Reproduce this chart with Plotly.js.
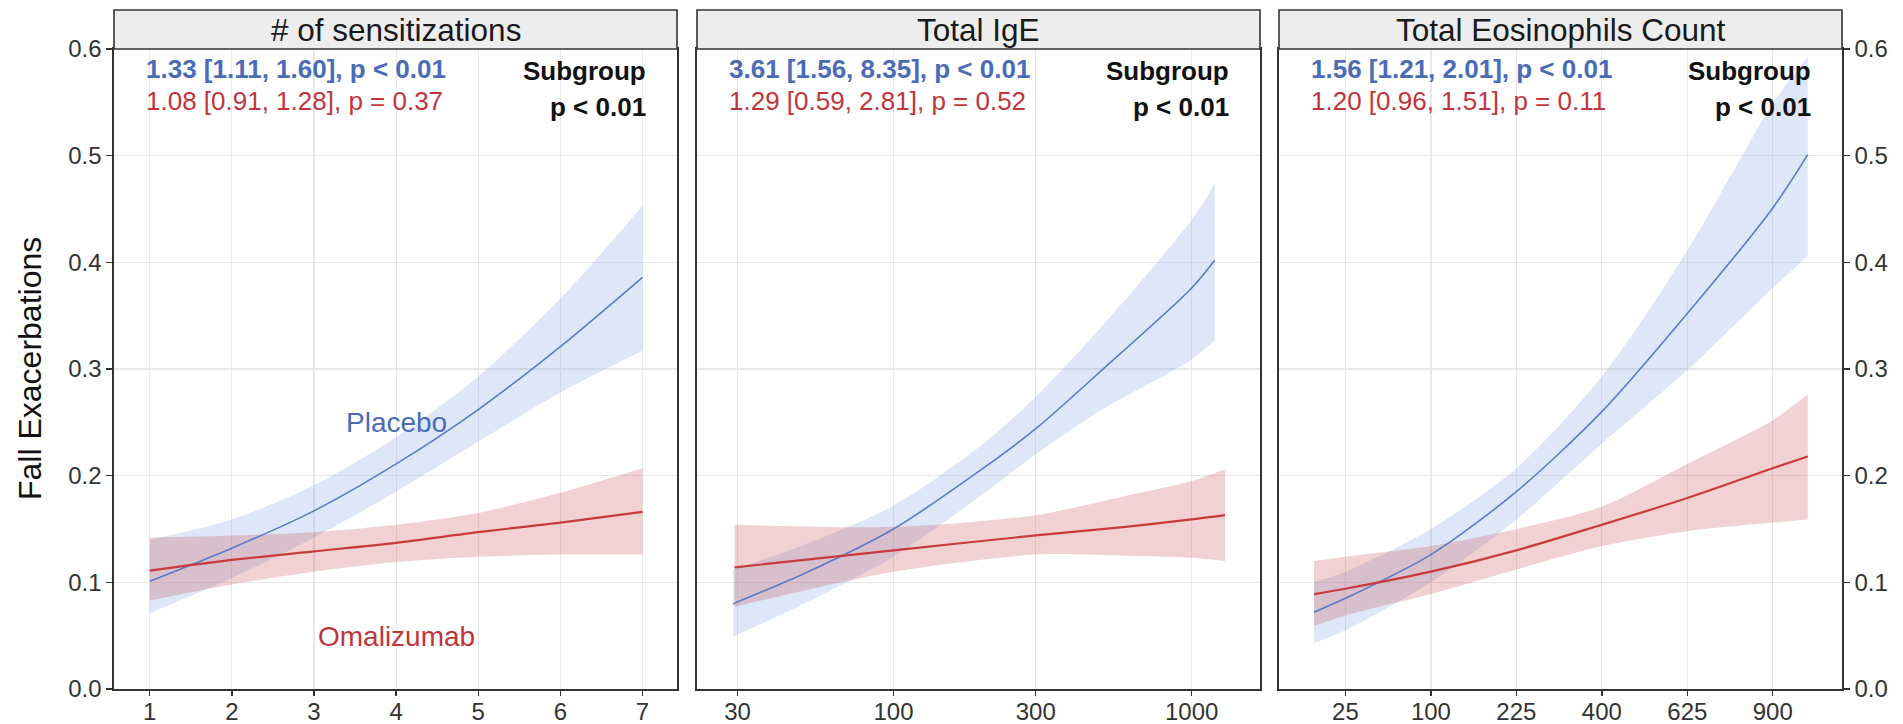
<!DOCTYPE html>
<html>
<head>
<meta charset="utf-8">
<script src="https://cdn.plot.ly/plotly-3.0.1.min.js"></script>
<style>html,body{margin:0;padding:0;background:#fff;}#chart{width:1903px;height:724px;}</style>
</head>
<body>
<div id="chart"></div>
<script>
// ---------- data ----------
const panelTitles = ["# of sensitizations", "Total IgE", "Total Eosinophils Count"];
const yTicks = [0, 0.1, 0.2, 0.3, 0.4, 0.5, 0.6];
const yTickText = ["0.0", "0.1", "0.2", "0.3", "0.4", "0.5", "0.6"];

// Panel 1: # of sensitizations
const sensTicks = [1, 2, 3, 4, 5, 6, 7];
const sensX = [1, 2, 3, 4, 5, 6, 7];
const sensPlacebo   = [0.101, 0.132, 0.167, 0.211, 0.262, 0.321, 0.386];
const sensPlaceboLo = [0.071, 0.104, 0.142, 0.185, 0.232, 0.278, 0.317];
const sensPlaceboHi = [0.140, 0.159, 0.191, 0.236, 0.293, 0.366, 0.453];
const sensOmal   = [0.111, 0.121, 0.129, 0.137, 0.147, 0.156, 0.166];
const sensOmalLo = [0.083, 0.098, 0.110, 0.119, 0.124, 0.126, 0.126];
const sensOmalHi = [0.142, 0.144, 0.147, 0.154, 0.165, 0.184, 0.207];

// Panel 2: Total IgE (log axis)
const igeTicks = [30, 100, 300, 1000];
const igeXPlacebo = [29, 50, 100, 200, 300, 500, 1000, 1195];
const igePlacebo   = [0.080, 0.108, 0.150, 0.207, 0.244, 0.299, 0.376, 0.402];
const igePlaceboLo = [0.049, 0.080, 0.124, 0.183, 0.220, 0.262, 0.309, 0.327];
const igePlaceboHi = [0.112, 0.135, 0.172, 0.230, 0.274, 0.340, 0.440, 0.474];
const igeXOmal = [29.3, 100, 300, 600, 1000, 1294];
const igeOmal   = [0.114, 0.130, 0.144, 0.152, 0.159, 0.163];
const igeOmalLo = [0.077, 0.110, 0.126, 0.125, 0.123, 0.120];
const igeOmalHi = [0.154, 0.152, 0.163, 0.181, 0.195, 0.206];

// Panel 3: Total Eosinophils Count (square-root axis)
const eosTicks = [25, 100, 225, 400, 625, 900];
const eosX = [10, 25, 100, 225, 400, 625, 900, 1027];
const eosPlacebo   = [0.072, 0.085, 0.126, 0.185, 0.260, 0.352, 0.451, 0.501];
const eosPlaceboLo = [0.043, 0.055, 0.100, 0.159, 0.230, 0.299, 0.376, 0.406];
const eosPlaceboHi = [0.100, 0.110, 0.150, 0.207, 0.293, 0.411, 0.549, 0.593];
const eosOmal   = [0.089, 0.094, 0.110, 0.130, 0.154, 0.179, 0.207, 0.218];
const eosOmalLo = [0.059, 0.069, 0.089, 0.112, 0.134, 0.148, 0.156, 0.159];
const eosOmalHi = [0.120, 0.124, 0.134, 0.150, 0.171, 0.211, 0.252, 0.276];

const placeboStats = ["1.33 [1.11, 1.60], p &lt; 0.01", "3.61 [1.56, 8.35], p &lt; 0.01", "1.56 [1.21, 2.01], p &lt; 0.01"];
const omalStats = ["1.08 [0.91, 1.28], p = 0.37", "1.29 [0.59, 2.81], p = 0.52", "1.20 [0.96, 1.51], p = 0.11"];
const subgroupP = ["p &lt; 0.01", "p &lt; 0.01", "p &lt; 0.01"];

// ---------- style ----------
const FONT = "Liberation Sans, Arial, Helvetica, sans-serif";
const BLUE_TXT = "#4a6cb6", RED_TXT = "#c2343b";
const BLUE_LINE = "#5a7bc6", RED_LINE = "#c83a3c";
const BLUE_FILL = "rgba(120,160,225,0.25)", RED_FILL = "rgba(205,90,95,0.28)";
const W = 1903, H = 724;
const PLOT_TOP = 49, PLOT_BOT = 689;
const panelsPx = [[114, 677], [697, 1260], [1279, 1842]];
const sqrt = v => Math.sqrt(v);

const traces = [];
function band(xs, lo, hi, fill, xa, ya) {
  traces.push({
    x: xs, y: lo, type: "scatter", mode: "lines",
    line: {width: 0, shape: "spline", smoothing: 0.8, color: "rgba(0,0,0,0)"}, hoverinfo: "skip",
    xaxis: xa, yaxis: ya, showlegend: false
  });
  traces.push({
    x: xs, y: hi, type: "scatter", mode: "lines", fill: "tonexty", fillcolor: fill,
    line: {width: 0, shape: "spline", smoothing: 0.8, color: "rgba(0,0,0,0)"}, hoverinfo: "skip",
    xaxis: xa, yaxis: ya, showlegend: false
  });
}
function line(xs, ys, color, width, xa, ya) {
  traces.push({
    x: xs, y: ys, type: "scatter", mode: "lines",
    line: {color: color, width: width, shape: "spline", smoothing: 0.8},
    xaxis: xa, yaxis: ya, showlegend: false
  });
}

// panel 1
band(sensX, sensPlaceboLo, sensPlaceboHi, BLUE_FILL, "x", "y");
band(sensX, sensOmalLo, sensOmalHi, RED_FILL, "x", "y");
line(sensX, sensPlacebo, BLUE_LINE, 1.6, "x", "y");
line(sensX, sensOmal, RED_LINE, 2.2, "x", "y");
// panel 2
band(igeXPlacebo, igePlaceboLo, igePlaceboHi, BLUE_FILL, "x2", "y2");
band(igeXOmal, igeOmalLo, igeOmalHi, RED_FILL, "x2", "y2");
line(igeXPlacebo, igePlacebo, BLUE_LINE, 1.6, "x2", "y2");
line(igeXOmal, igeOmal, RED_LINE, 2.2, "x2", "y2");
// panel 3 (sqrt scale)
const eosXs = eosX.map(sqrt);
band(eosXs, eosPlaceboLo, eosPlaceboHi, BLUE_FILL, "x3", "y3");
band(eosXs, eosOmalLo, eosOmalHi, RED_FILL, "x3", "y3");
line(eosXs, eosPlacebo, BLUE_LINE, 1.6, "x3", "y3");
line(eosXs, eosOmal, RED_LINE, 2.2, "x3", "y3");

const axisCommon = {
  showline: true, mirror: true, linecolor: "#333333", linewidth: 1.6,
  showgrid: true, gridcolor: "#e8e8e8", gridwidth: 1.2, zeroline: false,
  ticks: "outside", ticklen: 6, tickcolor: "#333333", tickwidth: 1.4,
  tickfont: {family: FONT, size: 24, color: "#333333"}, fixedrange: true
};
const xAxisExtra = {ticklen: 5, ticklabelstandoff: -4};
function dom(i) { return [panelsPx[i][0] / W, panelsPx[i][1] / W]; }

const layout = {
  width: W, height: H,
  margin: {l: 0, r: 0, t: PLOT_TOP, b: H - PLOT_BOT, pad: 0},
  paper_bgcolor: "#ffffff", plot_bgcolor: "#ffffff",
  font: {family: FONT},
  showlegend: false,
  xaxis: Object.assign({}, axisCommon, xAxisExtra, {domain: dom(0), anchor: "y", range: [0.565, 7.42],
    tickmode: "array", tickvals: sensTicks, ticktext: sensTicks.map(String)}),
  xaxis2: Object.assign({}, axisCommon, xAxisExtra, {domain: dom(1), anchor: "y2", type: "log", range: [1.341, 3.229],
    tickmode: "array", tickvals: igeTicks, ticktext: igeTicks.map(String)}),
  xaxis3: Object.assign({}, axisCommon, xAxisExtra, {domain: dom(2), anchor: "y3", range: [1.112, 34.05],
    tickmode: "array", tickvals: eosTicks.map(sqrt), ticktext: eosTicks.map(String)}),
  yaxis: Object.assign({}, axisCommon, {domain: [0, 1], anchor: "x", range: [0, 0.6],
    tickmode: "array", tickvals: yTicks, ticktext: yTickText}),
  yaxis2: Object.assign({}, axisCommon, {domain: [0, 1], anchor: "x2", range: [0, 0.6],
    tickmode: "array", tickvals: yTicks, showticklabels: false, ticks: ""}),
  yaxis3: Object.assign({}, axisCommon, {domain: [0, 1], anchor: "x3", side: "right", range: [0, 0.6],
    tickmode: "array", tickvals: yTicks, ticktext: yTickText}),
  shapes: [],
  annotations: []
};

const stripTop = (PLOT_BOT - 10) / (PLOT_BOT - PLOT_TOP);
const stripMid = (PLOT_BOT - 30) / (PLOT_BOT - PLOT_TOP);
const xrefs = ["x", "x2", "x3"], yrefs = ["y", "y2", "y3"];
for (let i = 0; i < 3; i++) {
  const d = dom(i);
  layout.shapes.push({type: "rect", xref: "paper", yref: "paper", x0: d[0], x1: d[1], y0: 1, y1: stripTop,
    fillcolor: "#ededed", line: {color: "#333333", width: 1.6}, layer: "above"});
  layout.annotations.push({xref: "paper", yref: "paper", x: (d[0] + d[1]) / 2, y: stripMid, xanchor: "center", yanchor: "middle",
    text: panelTitles[i], showarrow: false, font: {family: FONT, size: 31.5, color: "#1a1a1a"}});
  layout.annotations.push({xref: xrefs[i] + " domain", yref: yrefs[i], x: 0.053, y: 0.581, xanchor: "left", yanchor: "middle",
    text: "<b>" + placeboStats[i] + "</b>", showarrow: false, font: {family: FONT, size: 26, color: BLUE_TXT}});
  layout.annotations.push({xref: xrefs[i] + " domain", yref: yrefs[i], x: 0.053, y: 0.551, xanchor: "left", yanchor: "middle",
    text: omalStats[i], showarrow: false, font: {family: FONT, size: 26, color: RED_TXT}});
  layout.annotations.push({xref: xrefs[i] + " domain", yref: yrefs[i], x: 0.948, y: 0.579, xanchor: "right", yanchor: "middle",
    text: "<b>Subgroup</b>", showarrow: false, font: {family: FONT, size: 26, color: "#111111"}});
  layout.annotations.push({xref: xrefs[i] + " domain", yref: yrefs[i], x: 0.948, y: 0.546, xanchor: "right", yanchor: "middle",
    text: "<b>" + subgroupP[i] + "</b>", showarrow: false, font: {family: FONT, size: 26, color: "#111111"}});
}
layout.annotations.push({xref: "x", yref: "y", x: 4.0, y: 0.25, text: "Placebo", showarrow: false,
  xanchor: "center", yanchor: "middle", font: {family: FONT, size: 28, color: BLUE_TXT}});
layout.annotations.push({xref: "x", yref: "y", x: 4.0, y: 0.049, text: "Omalizumab", showarrow: false,
  xanchor: "center", yanchor: "middle", font: {family: FONT, size: 28, color: RED_TXT}});
layout.annotations.push({xref: "paper", yref: "paper", x: 30 / W, y: (PLOT_BOT - 369) / (PLOT_BOT - PLOT_TOP),
  text: "Fall Exacerbations", textangle: -90, showarrow: false, xanchor: "center", yanchor: "middle",
  font: {family: FONT, size: 32, color: "#111111"}});

Plotly.newPlot("chart", traces, layout, {displayModeBar: false, staticPlot: true});
</script>
</body>
</html>
